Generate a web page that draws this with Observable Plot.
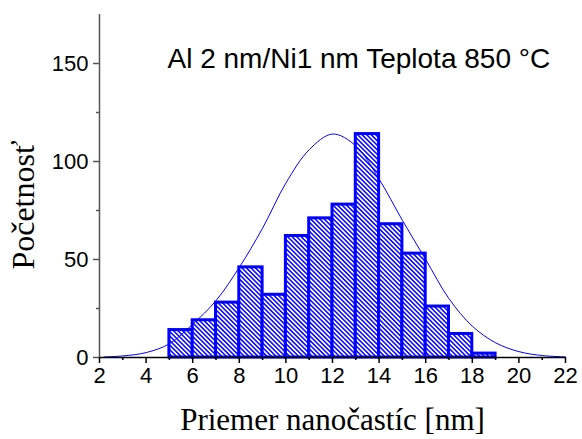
<!DOCTYPE html>
<html>
<head>
<meta charset="utf-8">
<script src="https://cdn.jsdelivr.net/npm/d3@7"></script>
<script src="https://cdn.jsdelivr.net/npm/@observablehq/plot@0.6"></script>
<style>
  html, body { margin: 0; padding: 0; background: #fff; }
  #chart { width: 582px; height: 439px; }
</style>
</head>
<body>
<div id="chart"></div>
<script>
// Histogram bins (nm) and counts
const binStart = [5, 6, 7, 8, 9, 10, 11, 12, 13, 14, 15, 16, 17, 18];
const binEnd   = [6, 7, 8, 9, 10, 11, 12, 13, 14, 15, 16, 17, 18, 19];
const counts   = [14, 19, 28, 46, 32, 62, 71, 78, 114, 68, 53, 26, 12, 2];

// Fitted curve, points
const curveX = [2.2, 3, 4, 5, 6, 7, 8, 9, 10, 11, 12, 13, 14, 15, 16, 17, 18, 19, 20, 21, 22];
const curveY = [0.3, 0.8, 2.5, 7, 17, 29, 46, 66, 89, 106, 114, 108, 91, 70, 50, 30, 16, 7.5, 3, 1, 0.3];

// Axis ticks
const xTicks = [2, 4, 6, 8, 10, 12, 14, 16, 18, 20, 22];
const xMinor = [3, 5, 7, 9, 11, 13, 15, 17, 19, 21];
const yTicks = [0, 50, 100, 150];
const yMinor = [25, 75, 125];

const titleText = "Al 2 nm/Ni1 nm Teplota 850 °C";
const xLabel = "Priemer nanočastíc [nm]";
const yLabel = "Početnosť";

const bars = binStart.map((s, i) => ({x1: s, x2: binEnd[i], y: counts[i]}));
const curve = curveX.map((x, i) => ({x, y: curveY[i]}));

const sans = "Arial, 'Liberation Sans', sans-serif";
const serif = "'Liberation Serif', 'Times New Roman', serif";
const blue = "#0000ff";

const svg = Plot.plot({
  width: 582,
  height: 439,
  marginLeft: 99,
  marginRight: 17,
  marginTop: 14,
  marginBottom: 82,
  style: {fontFamily: sans, background: "#fff", color: "#000"},
  x: {domain: [2, 22]},
  y: {domain: [0, 175]},
  marks: [
    Plot.rectY(bars, {x1: "x1", x2: "x2", y: "y", fill: "url(#hatch)", stroke: blue, strokeWidth: 3}),
    Plot.line(curve, {x: "x", y: "y", stroke: blue, strokeWidth: 1, curve: "catmull-rom"}),
    Plot.ruleY([0], {stroke: "#000", strokeWidth: 1.5}),
    Plot.ruleX([2], {stroke: "#555", strokeWidth: 1.5}),
    Plot.axisX({ticks: xTicks, tickSize: 6, tickPadding: 4, tickFormat: d => d, label: null, stroke: "#000", strokeWidth: 1.5, fontSize: 22}),
    Plot.axisX({ticks: xMinor, tickSize: 3, tickFormat: () => "", label: null, stroke: "#000", strokeWidth: 1.5}),
    Plot.axisY({ticks: yTicks, tickSize: 6, tickPadding: 5, tickFormat: d => d, label: null, stroke: "#555", strokeWidth: 1.5, fontSize: 22}),
    Plot.axisY({ticks: yMinor, tickSize: 3, tickFormat: () => "", label: null, stroke: "#555", strokeWidth: 1.5}),
    Plot.text([titleText], {frameAnchor: "top-left", dx: 68, dy: 45, textAnchor: "start", lineAnchor: "middle", fontSize: 28, fontFamily: sans, fill: "#000"}),
    Plot.text([xLabel], {frameAnchor: "bottom", dy: 63, textAnchor: "middle", lineAnchor: "middle", fontSize: 31, fontFamily: serif, fill: "#000"}),
    Plot.text([yLabel], {frameAnchor: "left", dx: -76, dy: 19, textAnchor: "middle", lineAnchor: "middle", rotate: -90, fontSize: 32, fontFamily: serif, fill: "#000"})
  ]
});

const defs = d3.select(svg).insert("defs", ":first-child");
const pat = defs.append("pattern")
  .attr("id", "hatch")
  .attr("patternUnits", "userSpaceOnUse")
  .attr("width", 3.2)
  .attr("height", 10)
  .attr("patternTransform", "rotate(-45)");
pat.append("rect").attr("width", 3.2).attr("height", 10).attr("fill", "#fff");
pat.append("line").attr("x1", 0.8).attr("y1", 0).attr("x2", 0.8).attr("y2", 10)
  .attr("stroke", blue).attr("stroke-width", 1.5);

document.getElementById("chart").appendChild(svg);
</script>
</body>
</html>
